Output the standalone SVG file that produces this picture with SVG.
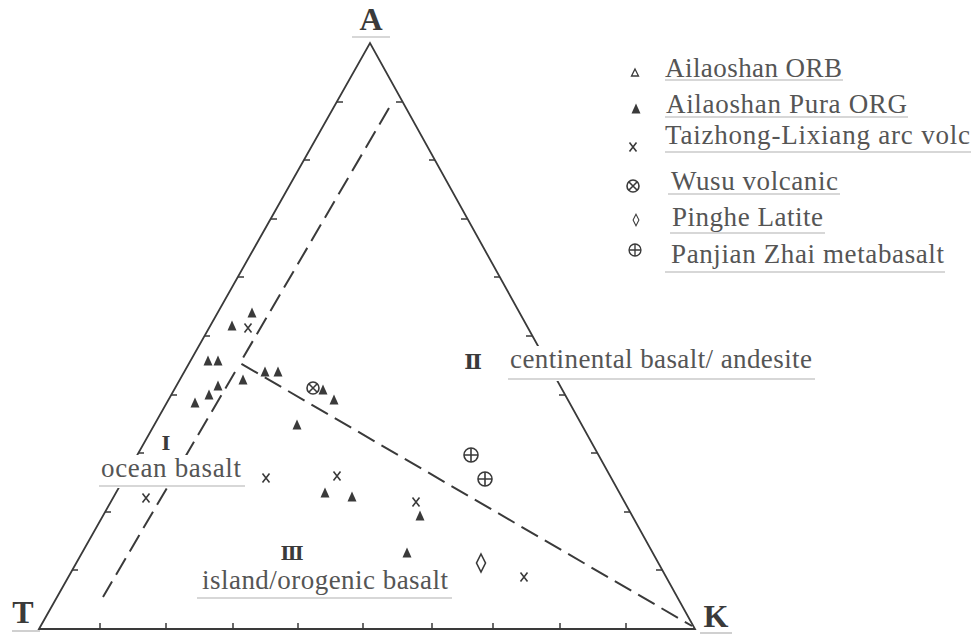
<svg xmlns="http://www.w3.org/2000/svg" width="978" height="635" viewBox="0 0 978 635">
<style>
  .frame{fill:none;stroke:#3a3a3a;stroke-width:1.8;stroke-linecap:round}
  .tick{fill:none;stroke:#3a3a3a;stroke-width:1.5}
  .dash{fill:none;stroke:#3a3a3a;stroke-width:2;stroke-dasharray:19 8}
  .lbl{font-family:"Liberation Serif","Times New Roman",serif;font-size:27px;fill:#555}
  .corner{font-family:"Liberation Serif","Times New Roman",serif;font-size:32px;font-weight:bold;fill:#3a3a3a;text-anchor:middle}
  .rn{font-family:"Liberation Serif","DejaVu Serif",serif;font-size:21px;font-weight:bold;fill:#3a3a3a;text-anchor:middle}
  .ul{stroke:#b0b0b0;stroke-width:1.2}
  .mk{fill:none;stroke:#3a3a3a;stroke-width:1.6}
  .fill{fill:#3a3a3a}
</style>
<defs>
  <path id="tri" d="M0,-5.5 L4.5,4.5 L-4.5,4.5 Z" class="fill"/>
  <path id="otri" d="M0,-4 L3.5,3 L-3.5,3 Z" fill="none" stroke="#3a3a3a" stroke-width="1.3"/>
  <path id="xm" d="M-3.5,-4.5 L3.5,4.5 M3.5,-4.5 L-3.5,4.5" class="mk"/>
  <g id="otimes"><circle r="6" class="mk"/><path d="M-4,-4 L4,4 M4,-4 L-4,4" class="mk"/></g>
  <g id="oplus"><circle r="7" class="mk"/><path d="M-7,0 L7,0 M0,-7 L0,7" class="mk"/></g>
  <path id="dia" d="M0,-9 L4.5,0 L0,9 L-4.5,0 Z" class="mk"/>
</defs>
<rect width="978" height="635" fill="#fff"/>

<g id="frame">
  <path class="frame" d="M39,629 L370,43 L695,629 Z"/>
  <g id="ticks" class="tick">
    <path d="M72,570 h6 M105,512 h6 M138,453 h6 M171,395 h6 M204,336 h6 M238,277 h6 M271,219 h6 M304,160 h6 M337,102 h6"/>
    <path d="M662,570 h-6 M630,512 h-6 M597,453 h-6 M565,395 h-6 M532,336 h-6 M500,277 h-6 M467,219 h-6 M435,160 h-6 M402,102 h-6"/>
    <path d="M100,629 v-6 M166,629 v-6 M233,629 v-6 M298,629 v-6 M363,629 v-6 M432,629 v-6 M493,629 v-6 M560,629 v-6 M626,629 v-6"/>
  </g>
</g>

<g id="connectors">
  <path class="dash" d="M389,108 L240,363 L692,626"/>
  <path class="dash" d="M235,372 L103,597"/>
</g>

<g id="corner-labels">
  <g id="label-A"><text class="corner" x="371" y="30">A</text><line class="ul" x1="352" y1="37" x2="390" y2="37"/></g>
  <g id="label-T"><text class="corner" x="23" y="623">T</text><line class="ul" x1="12" y1="631" x2="40" y2="631"/></g>
  <g id="label-K"><text class="corner" x="716" y="627">K</text><line class="ul" x1="700" y1="633" x2="732" y2="633"/></g>
</g>

<g id="region-labels">
  <g id="region-II">
    <rect x="505" y="346" width="315" height="35" fill="#fff"/>
    <text class="rn" x="473" y="369">Ⅱ</text>
    <text class="lbl" x="510" y="368" textLength="302" lengthAdjust="spacing">centinental basalt/ andesite</text>
    <line class="ul" x1="508" y1="379" x2="815" y2="379"/>
  </g>
  <g id="region-I">
    <rect x="95" y="455" width="154" height="33" fill="#fff"/>
    <text class="rn" x="166" y="450" style="font-size:19px">Ⅰ</text>
    <text class="lbl" x="101" y="477" textLength="140" lengthAdjust="spacing">ocean basalt</text>
    <line class="ul" x1="99" y1="486" x2="245" y2="486"/>
  </g>
  <g id="region-III">
    <text class="rn" x="292" y="560" style="font-size:19px">Ⅲ</text>
    <text class="lbl" x="202" y="589" textLength="246" lengthAdjust="spacing">island/orogenic basalt</text>
    <line class="ul" x1="197" y1="598" x2="452" y2="598"/>
  </g>
</g>

<g id="data-points">
  <g id="pura-org">
    <use href="#tri" x="252" y="313"/>
    <use href="#tri" x="232" y="326"/>
    <use href="#tri" x="208" y="361"/>
    <use href="#tri" x="218" y="361"/>
    <use href="#tri" x="265" y="372"/>
    <use href="#tri" x="278" y="372"/>
    <use href="#tri" x="243" y="380"/>
    <use href="#tri" x="218" y="386"/>
    <use href="#tri" x="209" y="395"/>
    <use href="#tri" x="195" y="403"/>
    <use href="#tri" x="323" y="390"/>
    <use href="#tri" x="334" y="400"/>
    <use href="#tri" x="297" y="425"/>
    <use href="#tri" x="325" y="493"/>
    <use href="#tri" x="352" y="497"/>
    <use href="#tri" x="420" y="516"/>
    <use href="#tri" x="407" y="553"/>
  </g>
  <g id="taizhong">
    <use href="#xm" x="248" y="328"/>
    <use href="#xm" x="266" y="478"/>
    <use href="#xm" x="337" y="476"/>
    <use href="#xm" x="146" y="498"/>
    <use href="#xm" x="416" y="502"/>
    <use href="#xm" x="524" y="577"/>
  </g>
  <g id="wusu"><use href="#otimes" x="313" y="388"/></g>
  <g id="pinghe"><use href="#dia" x="481" y="563"/></g>
  <g id="panjian">
    <use href="#oplus" x="471" y="455"/>
    <use href="#oplus" x="485" y="479"/>
  </g>
</g>

<g id="legend">
  <g id="leg-orb"><use href="#otri" x="635" y="73"/><text class="lbl" x="665" y="77" textLength="177" lengthAdjust="spacing">Ailaoshan ORB</text><line class="ul" x1="665" y1="80" x2="843" y2="80"/></g>
  <g id="leg-org"><use href="#tri" x="636" y="109"/><text class="lbl" x="666" y="113" textLength="241" lengthAdjust="spacing">Ailaoshan Pura ORG</text><line class="ul" x1="665" y1="117" x2="908" y2="117"/></g>
  <g id="leg-tz"><use href="#xm" x="633" y="147"/><text class="lbl" x="665" y="144" textLength="305" lengthAdjust="spacing">Taizhong-Lixiang arc volc</text><line class="ul" x1="665" y1="152" x2="971" y2="152"/></g>
  <g id="leg-wusu"><use href="#otimes" x="633" y="186"/><text class="lbl" x="671" y="190" textLength="167" lengthAdjust="spacing">Wusu volcanic</text><line class="ul" x1="668" y1="194" x2="840" y2="194"/></g>
  <g id="leg-pinghe"><use href="#dia" x="636" y="220" transform="translate(636 220) scale(0.65) translate(-636 -220)"/><text class="lbl" x="672" y="226" textLength="151" lengthAdjust="spacing">Pinghe Latite</text><line class="ul" x1="670" y1="233" x2="825" y2="233"/></g>
  <g id="leg-panjian"><use href="#oplus" x="635" y="250" transform="translate(635 250) scale(0.85) translate(-635 -250)"/><text class="lbl" x="671" y="263" textLength="273" lengthAdjust="spacing">Panjian Zhai metabasalt</text><line class="ul" x1="665" y1="272" x2="945" y2="272"/></g>
</g>
</svg>
